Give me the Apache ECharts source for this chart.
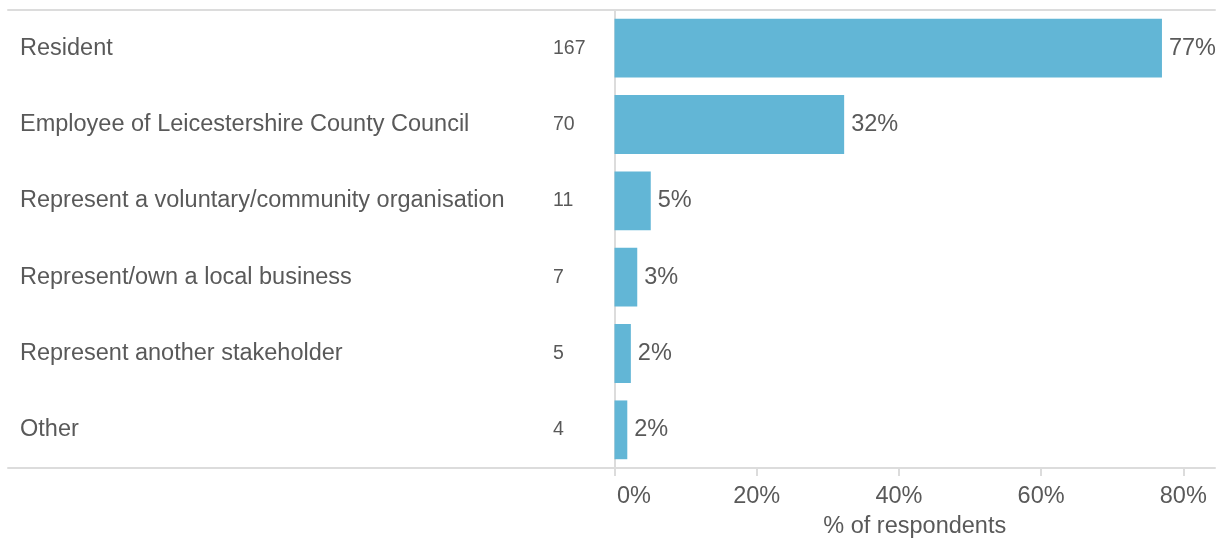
<!DOCTYPE html>
<html>
<head>
<meta charset="utf-8">
<script src="https://cdn.jsdelivr.net/npm/echarts@6/dist/echarts.min.js"></script>
<style>html,body{margin:0;padding:0;background:#fff}#c{width:1220px;height:538px}</style>
</head>
<body>
<div id="c"></div>
<script>
const categories = ['Resident','Employee of Leicestershire County Council','Represent a voluntary/community organisation','Represent/own a local business','Represent another stakeholder','Other'];
const counts = [167, 70, 11, 7, 5, 4];
const percents = [77.0, 32.3, 5.1, 3.2, 2.3, 1.8];
const tickValues = [0, 20, 40, 60, 80];

const FONT = '"Liberation Sans", Arial, sans-serif';
const TXT = '#595959';
const LINE = '#dcdcdc';

const lineOnlyAxis = (gridIndex, position, min, max) => ({
  type: 'value', gridIndex, position, min, max,
  splitLine: {show: false},
  axisLine: {show: true, lineStyle: {color: LINE, width: 2}},
  axisTick: {show: false}, axisLabel: {show: false}
});

const chart = echarts.init(document.getElementById('c'), null, {renderer: 'canvas'});
chart.setOption({
  animation: false,
  backgroundColor: '#fff',
  grid: [
    {left: 614.5, right: 5, top: 10, bottom: 70, outerBoundsMode: 'none'},
    {left: 8, right: 605.5, top: 10, bottom: 70, outerBoundsMode: 'none'}
  ],
  xAxis: [{
    type: 'value', gridIndex: 0, position: 'bottom', min: 0, max: 84.46,
    splitLine: {show: false},
    axisLine: {show: true, lineStyle: {color: LINE, width: 2}},
    axisTick: {show: true, customValues: tickValues, length: 8, lineStyle: {color: LINE, width: 2}},
    axisLabel: {
      show: true, customValues: tickValues, margin: 17,
      color: TXT, fontSize: 23.5, fontFamily: FONT,
      formatter: v => v === 0 ? '{z|0%}' : v + '%',
      rich: {z: {padding: [0, 0, 0, 39], color: TXT, fontSize: 23.5, fontFamily: FONT}}
    },
    name: '% of respondents', nameLocation: 'middle', nameGap: 47,
    nameTextStyle: {color: TXT, fontSize: 23.5, fontFamily: FONT}
  },
    lineOnlyAxis(0, 'top', 0, 84.46),
    lineOnlyAxis(1, 'bottom', 0, 1),
    lineOnlyAxis(1, 'top', 0, 1)
  ],
  yAxis: [{
    type: 'category', gridIndex: 0, inverse: true, data: categories,
    axisLine: {show: true, onZero: false, lineStyle: {color: LINE, width: 2}},
    axisTick: {show: false},
    axisLabel: {
      margin: 10, align: 'right', interval: 0,
      formatter: (v, i) => '{n|' + v + '}{c|' + counts[i] + '}',
      rich: {
        n: {width: 533, align: 'left', color: TXT, fontSize: 23.5, fontFamily: FONT},
        c: {width: 51.5, align: 'left', color: TXT, fontSize: 19.5, fontFamily: FONT}
      }
    }
  }, {
    type: 'value', gridIndex: 1, show: false
  }],
  series: [{
    type: 'bar', xAxisIndex: 0, yAxisIndex: 0, data: percents, barWidth: '77%',
    itemStyle: {color: '#62b6d6'},
    label: {show: true, position: 'right', distance: 7, color: TXT, fontSize: 23.5, fontFamily: FONT,
      formatter: p => Math.round(p.value) + '%'}
  }]
});
</script>
</body>
</html>
